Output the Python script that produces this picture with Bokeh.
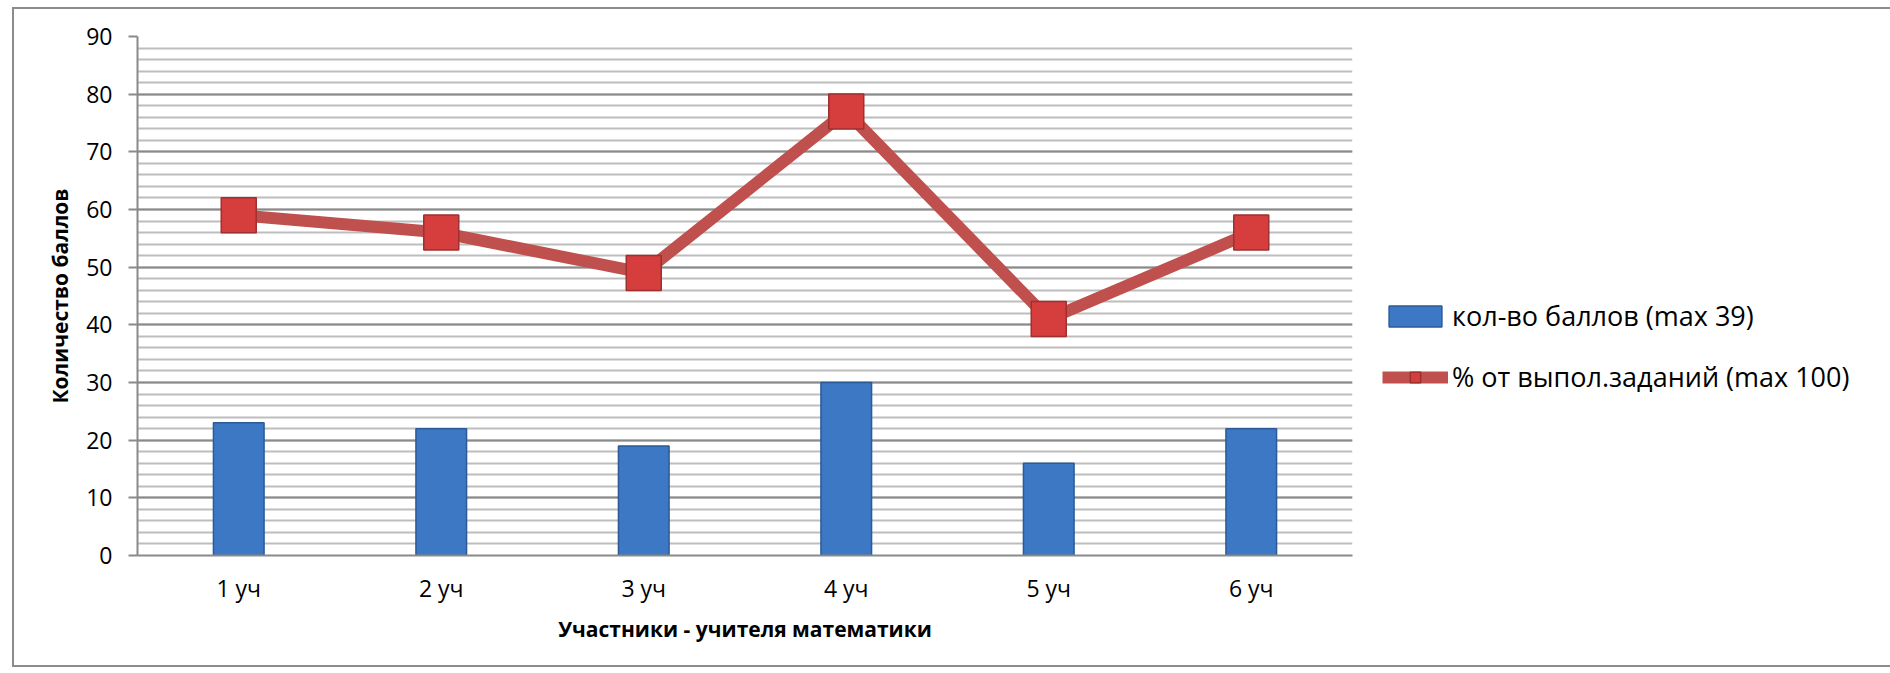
from bokeh.plotting import figure
from bokeh.models import ColumnDataSource, FixedTicker, Legend, LegendItem, Range1d
from bokeh.embed import file_html
from bokeh.resources import INLINE

categories = ["1 уч", "2 уч", "3 уч", "4 уч", "5 уч", "6 уч"]
points = [23, 22, 19, 30, 16, 22]
percent = [59, 56, 49, 77, 41, 56]
y_ticks = [0, 10, 20, 30, 40, 50, 60, 70, 80, 90]
y_minor = list(range(0, 91, 2))
series_names = ["кол-во баллов (max 39)", "% от выпол.заданий (max 100)"]
x_title = "Участники - учителя математики"
y_title = "Количество баллов"

FONT = "Open Sans"

src = ColumnDataSource(dict(cat=categories, pts=points, pct=percent))

p = figure(frame_width=1215, frame_height=519, x_range=categories, y_range=Range1d(0, 90),
           output_backend="svg", toolbar_location=None,
           min_border_left=123, min_border_right=0, min_border_top=27, min_border_bottom=110)
p.styles = {"border": "2px solid #8c8c8c", "position": "relative", "left": "12px", "top": "7px"}
p.outline_line_color = None
p.background_fill_color = "white"
p.border_fill_color = "white"

# grid
p.xgrid.grid_line_color = None
p.yaxis.ticker = FixedTicker(ticks=y_ticks, minor_ticks=y_minor)
p.ygrid.grid_line_color = "#8a8a8a"
p.ygrid.grid_line_width = 2
p.ygrid.minor_grid_line_color = "#bdbdbd"
p.ygrid.minor_grid_line_width = 2

# axes
for ax in (p.xaxis, p.yaxis):
    ax.axis_line_color = "#8a8a8a"
    ax.axis_line_width = 2
    ax.major_label_text_font = FONT
    ax.major_label_text_font_size = "23px"
    ax.major_label_text_color = "#000000"
    ax.axis_label_text_font = FONT
    ax.axis_label_text_font_style = "bold"
    ax.axis_label_text_font_size = "21px"
    ax.axis_label_text_color = "#000000"
    ax.minor_tick_line_color = None

p.yaxis.major_tick_line_color = "#8a8a8a"
p.yaxis.major_tick_line_width = 2
p.yaxis.major_tick_out = 9
p.yaxis.major_tick_in = 0
p.yaxis.major_label_standoff = 16
p.yaxis.axis_label = y_title
p.yaxis.axis_label_standoff = 9

p.xaxis.major_tick_line_color = None
p.xaxis.major_label_standoff = 10
p.xaxis.axis_label = x_title
p.xaxis.axis_label_standoff = 8

bars = p.vbar(x="cat", top="pts", width=0.25, source=src,
              fill_color="#3d78c5", line_color="#2b5a96", line_width=1.5)
line = p.line(x="cat", y="pct", source=src, line_color="#c0504d", line_width=12)
marks = p.scatter(x="cat", y="pct", source=src, marker="square", size=35,
                  fill_color="#d63d3d", line_color="#9e3030", line_width=1.5)

lg = Legend(items=[LegendItem(label=series_names[0], renderers=[bars]),
                   LegendItem(label=series_names[1], renderers=[line, marks])],
            location=(30, 160), orientation="vertical")
lg.margin = 0
lg.padding = 0
lg.spacing = 24
lg.glyph_width = 66
lg.glyph_height = 26
lg.label_height = 30
lg.label_standoff = 4
lg.border_line_color = None
lg.background_fill_color = None
lg.label_text_font = FONT
lg.label_text_font_size = "27px"
lg.label_text_color = "#000000"
p.add_layout(lg, "right")

open("out.html", "w").write(file_html(p, INLINE))
